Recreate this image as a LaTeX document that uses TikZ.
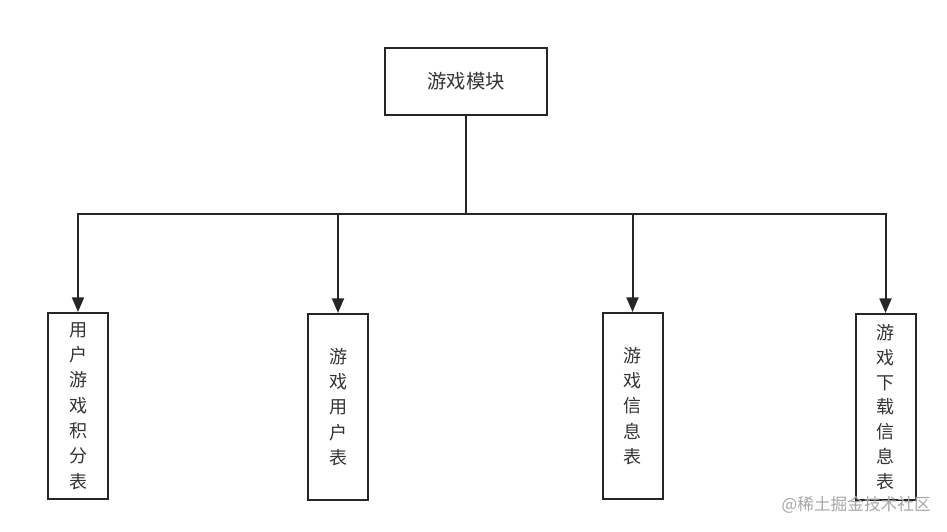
\documentclass[tikz,border=0pt]{standalone}
\usepackage{fontspec}
\newfontfamily\cjk{Noto Sans CJK SC}
\usetikzlibrary{arrows.meta}
\begin{document}
\begin{tikzpicture}[x=0.75pt,y=-0.75pt,
  box/.style={draw=black!85,line width=1.5pt,inner sep=0pt,align=center,text=black!80},
  vbox/.style={box,minimum width=45pt,minimum height=139.5pt,font=\cjk\fontsize{13.5}{19}\selectfont},
  link/.style={draw=black!85,line width=1.5pt},
  arr/.style={link,-{Triangle[length=11pt,width=9pt]}}]
\useasboundingbox (0,0) rectangle (947,532);
\node[box,minimum width=122pt,minimum height=50pt,font=\cjk\fontsize{14.5}{18}\selectfont] (top) at (466,81.5) {\raisebox{-1.5pt}{游戏模块}};
\node[vbox] (b1) at (78,406) {用\\户\\游\\戏\\积\\分\\表};
\node[vbox] (b2) at (338,407) {游\\戏\\用\\户\\表};
\node[vbox] (b3) at (632.5,406) {游\\戏\\信\\息\\表};
\node[vbox,font=\cjk\fontsize{13.5}{18.6}\selectfont] (b4) at (885.5,407) {游\\戏\\下\\载\\信\\息\\表};
\coordinate (bus) at (466,214);
\draw[link] (top.south) -- (bus);
\draw[arr] (bus) -| (b1.north);
\draw[arr] (bus) -| (b2.north);
\draw[arr] (bus) -| (b3.north);
\draw[arr] (bus) -| (b4.north);
\node[font=\cjk\fontsize{12.5}{14}\selectfont,text=black!35,anchor=east,inner sep=0pt] (wm) at (931,505) {@稀土掘金技术社区};
\end{tikzpicture}
\end{document}
